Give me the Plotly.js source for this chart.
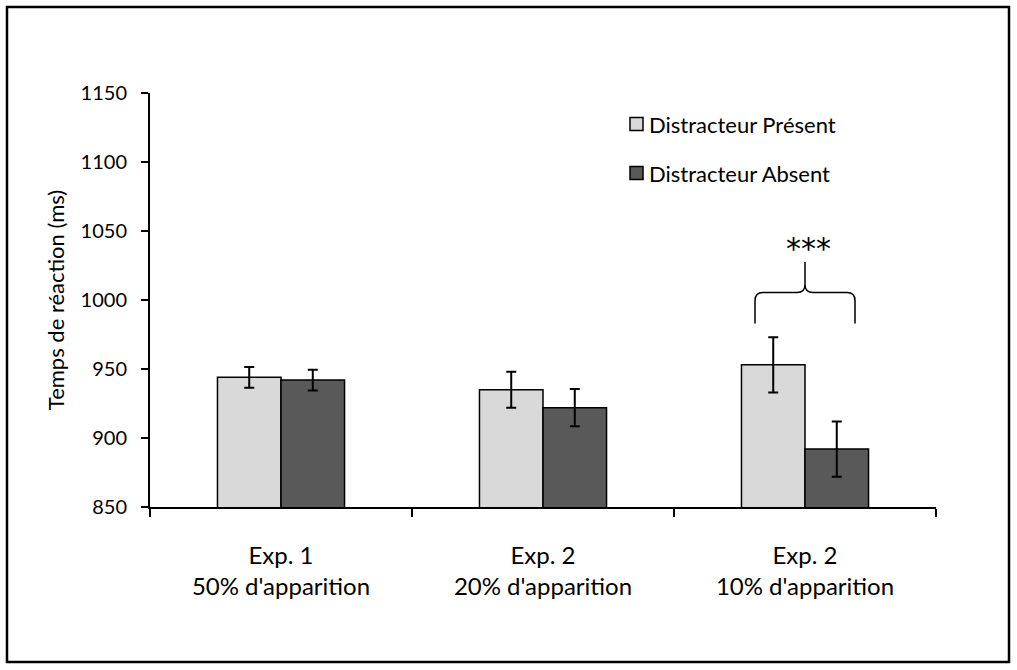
<!DOCTYPE html>
<html>
<head>
<meta charset="utf-8">
<script src="https://cdn.plot.ly/plotly-3.0.1.min.js"></script>
<style>
  html, body { margin: 0; padding: 0; background: #ffffff; }
  #chart { width: 1017px; height: 670px; }
</style>
</head>
<body>
<div id="chart"></div>
<script>
// ---- data ----
const categories = ["Exp. 1<br>50% d'apparition", "Exp. 2<br>20% d'apparition", "Exp. 2<br>10% d'apparition"];
const seriesNames = ["Distracteur Présent", "Distracteur Absent"];
const seriesColors = ["#D9D9D9", "#595959"];
const presentValues = [944, 935, 953];
const presentErrors = [7.5, 13, 20];
const absentValues = [942, 922, 892];
const absentErrors = [7.5, 13.5, 20];
const yTickVals = [850, 900, 950, 1000, 1050, 1100, 1150];
const significance = "***";

// ---- layout geometry ----
const W = 1017, H = 670;
const M = { l: 150, r: 81, t: 93, b: 163 };
const FONT = "Lato, 'Open Sans', sans-serif";
const nCat = categories.length;
const PW = W - M.l - M.r, PH = H - M.t - M.b;
const px2paperX = (px) => (px - M.l) / PW;
const px2paperY = (py) => (H - M.b - py) / PH;
const catPaper = (i) => (i + 0.5) / nCat;

const errStyle = (arr) => ({ type: 'data', array: arr, visible: true, color: '#000000', thickness: 2, width: 5 });

const traces = [
  {
    type: 'bar', name: seriesNames[0], x: categories, y: presentValues,
    marker: { color: seriesColors[0], line: { color: '#000000', width: 1.5 } },
    error_y: errStyle(presentErrors)
  },
  {
    type: 'bar', name: seriesNames[1], x: categories, y: absentValues,
    marker: { color: seriesColors[1], line: { color: '#000000', width: 1.5 } },
    error_y: errStyle(absentErrors)
  }
];

// brace over the third group (in paper x, data y)
const c = catPaper(2);
const half = 50 / PW;
const r = 8 / PW;
const yBot = 983, yMid = 1005.5, yTop = 1027.5, yr = 5.8;
const bracePath =
  `M ${c - half} ${yBot} L ${c - half} ${yMid - yr} Q ${c - half} ${yMid} ${c - half + r} ${yMid} ` +
  `L ${c - r} ${yMid} Q ${c} ${yMid} ${c} ${yMid + yr} L ${c} ${yTop} ` +
  `M ${c} ${yMid + yr} Q ${c} ${yMid} ${c + r} ${yMid} L ${c + half - r} ${yMid} ` +
  `Q ${c + half} ${yMid} ${c + half} ${yMid - yr} L ${c + half} ${yBot}`;

// custom legend (swatch + label)
const legendRowsPx = [124, 173];
const legendShapes = seriesNames.map((n, i) => ({
  type: 'rect', xref: 'paper', yref: 'paper',
  x0: px2paperX(630), x1: px2paperX(643),
  y0: px2paperY(legendRowsPx[i] + 6.5), y1: px2paperY(legendRowsPx[i] - 6.5),
  fillcolor: seriesColors[i], line: { color: '#000', width: 1.5 }
}));
const legendAnnots = seriesNames.map((n, i) => ({
  xref: 'paper', yref: 'paper', x: px2paperX(647), y: px2paperY(legendRowsPx[i]),
  text: n, showarrow: false, xanchor: 'left', yanchor: 'middle',
  font: { family: FONT, size: 22, color: '#000' }
}));

const layout = {
  width: W, height: H,
  margin: M,
  paper_bgcolor: '#ffffff', plot_bgcolor: '#ffffff',
  font: { family: FONT, color: '#000000', size: 20 },
  barmode: 'group',
  bargap: 0.515,
  bargroupgap: 0,
  showlegend: false,
  xaxis: {
    type: 'category', range: [-0.5, nCat - 0.5],
    showline: true, linecolor: '#000', linewidth: 2,
    ticks: 'outside', tickson: 'boundaries', ticklen: 8, tickwidth: 2, tickcolor: '#000',
    showgrid: false, zeroline: false,
    tickfont: { family: FONT, size: 24, color: '#000' },
    ticklabelstandoff: 26
  },
  yaxis: {
    range: [850, 1150], tickvals: yTickVals, ticktext: yTickVals.map(String),
    showline: true, linecolor: '#000', linewidth: 2,
    ticks: 'outside', ticklen: 7, tickwidth: 2, tickcolor: '#000',
    showgrid: false, zeroline: false,
    tickfont: { family: FONT, size: 20, color: '#000' },
    ticklabelstandoff: 10,
    title: { text: 'Temps de réaction (ms)', font: { family: FONT, size: 22, color: '#000' }, standoff: 10 }
  },
  shapes: [
    {
      type: 'rect', xref: 'paper', yref: 'paper',
      x0: px2paperX(7), x1: px2paperX(1009), y0: px2paperY(662), y1: px2paperY(7),
      line: { color: '#000', width: 2.5 }, fillcolor: 'rgba(0,0,0,0)', layer: 'below'
    },
    {
      type: 'path', xref: 'paper', yref: 'y', path: bracePath,
      line: { color: '#000', width: 1.5 }
    }
  ].concat(legendShapes),
  annotations: [
    {
      xref: 'paper', yref: 'y', x: c + 3 / PW, y: 1037,
      text: significance, showarrow: false,
      font: { family: "'DejaVu Sans', sans-serif", size: 30, color: '#000' },
      xanchor: 'center', yanchor: 'middle'
    }
  ].concat(legendAnnots)
};

Plotly.newPlot('chart', traces, layout, { displayModeBar: false, staticPlot: true });
</script>
</body>
</html>
